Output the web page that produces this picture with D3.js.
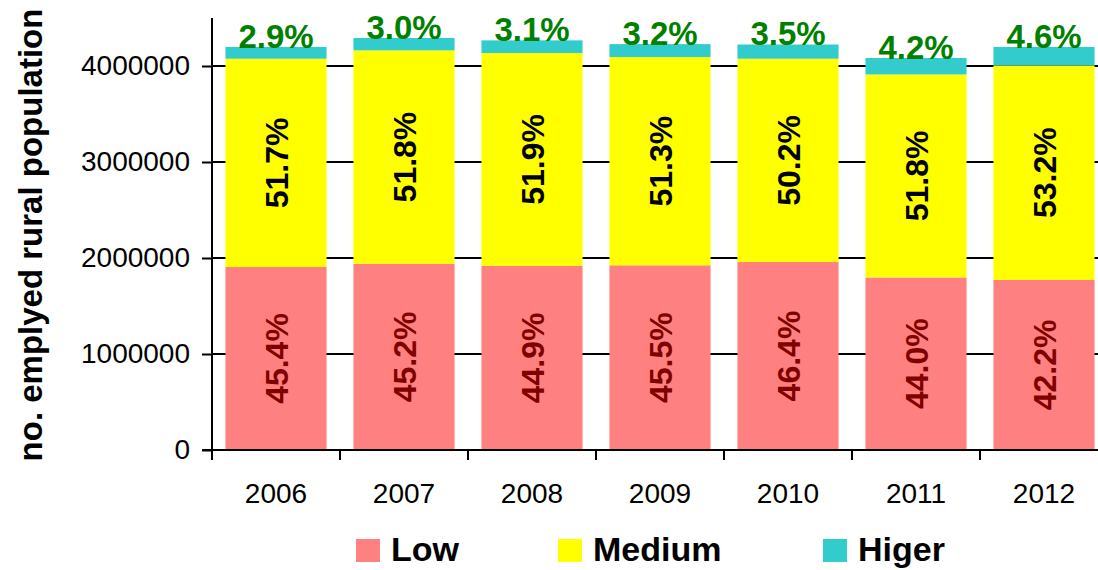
<!DOCTYPE html>
<html>
<head>
<meta charset="utf-8">
<script src="https://cdn.jsdelivr.net/npm/d3@7"></script>
<style>
  body { margin: 0; background: #fff; }
  svg { font-family: Arial, "Liberation Sans", sans-serif; }
</style>
</head>
<body>
<svg width="1098" height="570"></svg>
<script>
// Data
var years = ['2006', '2007', '2008', '2009', '2010', '2011', '2012'];
var low = [1906000, 1940000, 1918000, 1924000, 1958000, 1797000, 1772000];
var medium = [2170000, 2223000, 2217000, 2169000, 2118000, 2115000, 2233000];
var higher = [122000, 129000, 132000, 135000, 148000, 171000, 193000];
var lowPct = ['45.4%', '45.2%', '44.9%', '45.5%', '46.4%', '44.0%', '42.2%'];
var medPct = ['51.7%', '51.8%', '51.9%', '51.3%', '50.2%', '51.8%', '53.2%'];
var highPct = ['2.9%', '3.0%', '3.1%', '3.2%', '3.5%', '4.2%', '4.6%'];
var yTicks = [0, 1000000, 2000000, 3000000, 4000000];
var seriesNames = ['Low', 'Medium', 'Higer'];
var colors = ['#ff8080', '#ffff00', '#33cccc'];

const svg = d3.select('svg');

// table for the stack
var table = years.map(function(y, i) {
	return {year: y, Low: low[i], Medium: medium[i], Higer: higher[i]};
});
var stacked = d3.stack().keys(seriesNames)(table);

const x = d3.scaleBand()
	.domain(years)
	.range([212, 1108])
	.paddingInner(0.21)
	.paddingOuter(0.105);
const y = d3.scaleLinear().domain([0, 4500000]).range([450, 18]);

// grid lines (behind bars)
svg.append('g')
	.selectAll('line')
	.data(yTicks.filter(d => d > 0))
	.enter()
	.append('line')
	.attr('x1', 212).attr('x2', 1108)
	.attr('y1', d => y(d)).attr('y2', d => y(d))
	.attr('stroke', '#000')
	.attr('stroke-width', 2);

// bars
svg.append('g')
	.selectAll('g')
	.data(stacked)
	.enter()
	.append('g')
	.attr('fill', (d, i) => colors[i])
	.selectAll('rect')
	.data(d => d)
	.enter()
	.append('rect')
	.attr('x', d => x(d.data.year))
	.attr('width', x.bandwidth())
	.attr('y', d => y(d[1]))
	.attr('height', d => y(d[0]) - y(d[1]));

// y axis
const yAxis = d3.axisLeft(y)
	.tickValues(yTicks)
	.tickSize(10)
	.tickPadding(12)
	.tickFormat(d3.format('d'));
const gy = svg.append('g').attr('transform', 'translate(212,0)').call(yAxis);
gy.select('.domain').remove();
gy.selectAll('line').attr('stroke', '#000').attr('stroke-width', 2);
gy.selectAll('text').attr('font-size', 28).attr('fill', '#000').attr('font-family', 'Arial, "Liberation Sans", sans-serif');
svg.append('line')
	.attr('x1', 212).attr('x2', 212)
	.attr('y1', y(4500000)).attr('y2', 451)
	.attr('stroke', '#000').attr('stroke-width', 2);

// x axis
svg.append('line')
	.attr('x1', 202).attr('x2', 1108)
	.attr('y1', 450).attr('y2', 450)
	.attr('stroke', '#000').attr('stroke-width', 2);
var half = x.step() * x.paddingInner() / 2;
svg.append('g')
	.selectAll('line')
	.data(years)
	.enter()
	.append('line')
	.attr('x1', d => x(d) - half).attr('x2', d => x(d) - half)
	.attr('y1', 450).attr('y2', 460)
	.attr('stroke', '#000').attr('stroke-width', 2);
svg.append('g')
	.selectAll('text')
	.data(years)
	.enter()
	.append('text')
	.attr('x', d => x(d) + x.bandwidth() / 2)
	.attr('y', 503)
	.attr('text-anchor', 'middle')
	.attr('font-size', 28)
	.text(d => d);

// rotated labels in the low and medium parts
function rotatedLabels(layer, texts, color) {
	svg.append('g')
		.selectAll('text')
		.data(layer)
		.enter()
		.append('text')
		.attr('transform', d => 'translate(' + (x(d.data.year) + x.bandwidth() / 2) + ',' + ((y(d[0]) + y(d[1])) / 2) + ') rotate(-90)')
		.attr('text-anchor', 'middle')
		.attr('dy', '0.36em')
		.attr('font-size', 32)
		.attr('font-weight', 'bold')
		.attr('fill', color)
		.text((d, i) => texts[i]);
}
rotatedLabels(stacked[0], lowPct, '#800000');
rotatedLabels(stacked[1], medPct, '#000');

// higher labels above the bars
svg.append('g')
	.selectAll('text')
	.data(stacked[2])
	.enter()
	.append('text')
	.attr('x', d => x(d.data.year) + x.bandwidth() / 2)
	.attr('y', d => y(d[1]) + 1)
	.attr('text-anchor', 'middle')
	.attr('font-size', 33)
	.attr('font-weight', 'bold')
	.attr('fill', '#008000')
	.text((d, i) => highPct[i]);

// y title
svg.append('text')
	.attr('transform', 'translate(42,235) rotate(-90)')
	.attr('text-anchor', 'middle')
	.attr('font-size', 33)
	.attr('font-weight', 'bold')
	.text('no. emplyed rural population');

// legend
var legendX = [356, 558, 823];
const legend = svg.append('g')
	.selectAll('g')
	.data(seriesNames)
	.enter()
	.append('g')
	.attr('transform', (d, i) => 'translate(' + legendX[i] + ',539)');
legend.append('rect')
	.attr('width', 24).attr('height', 23)
	.attr('fill', (d, i) => colors[i]);
legend.append('text')
	.attr('x', 35).attr('y', 22)
	.attr('font-size', 34)
	.attr('font-weight', 'bold')
	.text(d => d);
</script>
</body>
</html>
